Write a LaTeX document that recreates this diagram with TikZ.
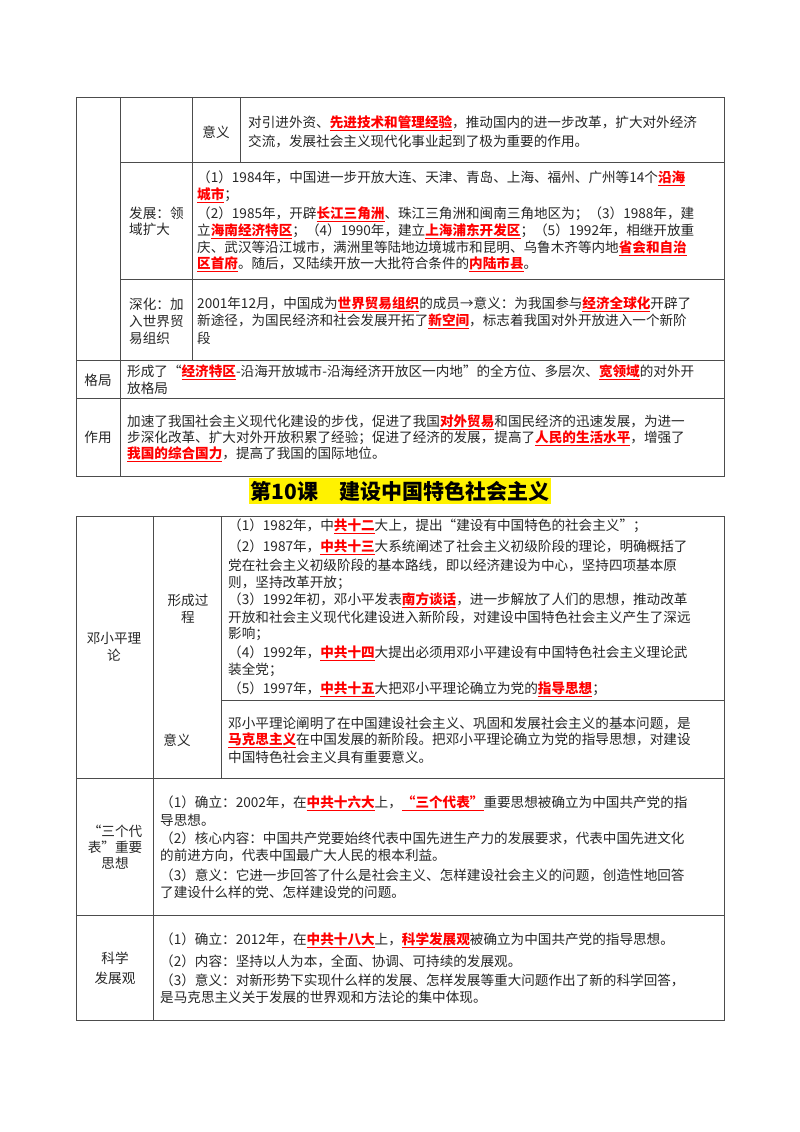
\documentclass[tikz,border=0pt]{standalone}
\usepackage{fontspec}
\setmainfont{Noto Sans CJK SC}
\XeTeXlinebreaklocale "zh"
\XeTeXlinebreakskip=0pt plus 4pt minus 0.3pt
\newcommand\hl[1]{\textcolor{red}{\bfseries\underline{#1}}}
\newcounter{ln}
\newcommand\Ln[3]{\stepcounter{ln}\node[txt] (ln\theln) at (#1,#2) {#3};}
\newcommand\Lj[4]{\stepcounter{ln}\node[txt,text width=#3pt,align=justify] (ln\theln) at (#1,#2) {\parfillskip=0pt\emergencystretch=20pt #4};}
\newcommand\Lc[3]{\stepcounter{ln}\node[lab] (ln\theln) at (#1,#2) {#3};}
\begin{document}
\begin{tikzpicture}[x=1pt,y=-1pt,
  txt/.style={anchor=west,inner sep=0pt,font=\fontsize{13.6}{16}\selectfont,text=black!85},
  lab/.style={inner sep=0pt,font=\fontsize{13.6}{16}\selectfont,text=black!85},
  grid/.style={draw=black!70,line width=0.9pt}]
\useasboundingbox[fill=white] (0,0) rectangle (800,1132);
% top table grid
\draw[grid] (76,97) rectangle (724,476);
\draw[grid] (120,97) -- (120,476);
\draw[grid] (192,97) -- (192,360);
\draw[grid] (240,97) -- (240,162);
\draw[grid] (120,162) -- (724,162);
\draw[grid] (120,279) -- (724,279);
\draw[grid] (76,360) -- (724,360);
\draw[grid] (76,398) -- (724,398);
% row yiyi
\Lc{216}{132}{意义}
\Lj{248}{123}{470}{对引进外资、\hl{先进技术和管理经验}，推动国内的进一步改革，扩大对外经济}
\Ln{248}{141}{交流，发展社会主义现代化事业起到了极为重要的作用。}
% fazhan
\Ln{129}{213}{发展：领}
\Ln{129}{229}{域扩大}
\Lj{197}{178}{521}{（1）1984年，中国进一步开放大连、天津、青岛、上海、福州、广州等14个\hl{沿海}}
\Ln{197}{195}{\hl{城市}；}
\Lj{197}{214}{521}{（2）1985年，开辟\hl{长江三角洲}、珠江三角洲和闽南三角地区为；（3）1988年，建}
\Lj{197}{231}{521}{立\hl{海南经济特区}；（4）1990年，建立\hl{上海浦东开发区}；（5）1992年，相继开放重}
\Lj{197}{248}{521}{庆、武汉等沿江城市，满洲里等陆地边境城市和昆明、乌鲁木齐等内地\hl{省会和自治}}
\Ln{197}{264}{\hl{区首府}。随后，又陆续开放一大批符合条件的\hl{内陆市县}。}
% shenhua
\Ln{129}{304}{深化：加}
\Ln{129}{321}{入世界贸}
\Ln{129}{338}{易组织}
\Lj{197}{304}{521}{2001年12月，中国成为\hl{世界贸易组织}的成员→意义：为我国参与\hl{经济全球化}开辟了}
\Lj{197}{321}{521}{新途径，为国民经济和社会发展开拓了\hl{新空间}，标志着我国对外开放进入一个新阶}
\Ln{197}{338}{段}
% geju
\Lc{98}{380}{格局}
\Lj{127}{372}{591}{形成了“\hl{经济特区}-沿海开放城市-沿海经济开放区一内地”的全方位、多层次、\hl{宽领域}的对外开}
\Ln{127}{388}{放格局}
% zuoyong
\Lc{98}{437}{作用}
\Lj{127}{422}{591}{加速了我国社会主义现代化建设的步伐，促进了我国\hl{对外贸易}和国民经济的迅速发展，为进一}
\Lj{127}{438}{591}{步深化改革、扩大对外开放积累了经验；促进了经济的发展，提高了\hl{人民的生活水平}，增强了}
\Ln{127}{454}{\hl{我国的综合国力}，提高了我国的国际地位。}
% title
\node[fill=yellow,inner xsep=2pt,inner ysep=3pt,font=\fontsize{21}{24}\selectfont\bfseries] (title) at (400,491) {第10课\hspace{1em}建设中国特色社会主义};
% bottom grid
\draw[grid] (76,516) rectangle (724,1020);
\draw[grid] (153,516) -- (153,1020);
\draw[grid] (221,516) -- (221,778);
\draw[grid] (221,700) -- (724,700);
\draw[grid] (76,778) -- (724,778);
\draw[grid] (76,915) -- (724,915);
% deng
\Lc{114}{638}{邓小平理}
\Lc{114}{655}{论}
\Lc{188}{600}{形成过}
\Lc{188}{617}{程}
\Ln{228}{526}{（1）1982年，中\hl{共十二}大上，提出“建设有中国特色的社会主义”；}
\Lj{228}{547}{486}{（2）1987年，\hl{中共十三}大系统阐述了社会主义初级阶段的理论，明确概括了}
\Ln{228}{565}{党在社会主义初级阶段的基本路线，即以经济建设为中心，坚持四项基本原}
\Ln{228}{583}{则，坚持改革开放；}
\Lj{228}{600}{486}{（3）1992年初，邓小平发表\hl{南方谈话}，进一步解放了人们的思想，推动改革}
\Lj{228}{617}{486}{开放和社会主义现代化建设进入新阶段，对建设中国特色社会主义产生了深远}
\Ln{228}{634}{影响；}
\Lj{228}{653}{486}{（4）1992年，\hl{中共十四}大提出必须用邓小平建设有中国特色社会主义理论武}
\Ln{228}{670}{装全党；}
\Ln{228}{689}{（5）1997年，\hl{中共十五}大把邓小平理论确立为党的\hl{指导思想}；}
\Lc{177}{740}{意义}
\Lj{228}{723}{488}{邓小平理论阐明了在中国建设社会主义、巩固和发展社会主义的基本问题，是}
\Lj{228}{740}{488}{\hl{马克思主义}在中国发展的新阶段。把邓小平理论确立为党的指导思想，对建设}
\Ln{228}{757}{中国特色社会主义具有重要意义。}
% sange daibiao
\Lc{115}{831}{“三个代}
\Lc{115}{847}{表”重要}
\Lc{115}{863}{思想}
\Lj{160}{803}{558}{（1）确立：2002年，在\hl{中共十六大}上，\hl{“三个代表”}重要思想被确立为中国共产党的指}
\Ln{160}{820}{导思想。}
\Lj{160}{838}{558}{（2）核心内容：中国共产党要始终代表中国先进生产力的发展要求，代表中国先进文化}
\Ln{160}{855}{的前进方向，代表中国最广大人民的根本利益。}
\Lj{160}{875}{558}{（3）意义：它进一步回答了什么是社会主义、怎样建设社会主义的问题，创造性地回答}
\Ln{160}{892}{了建设什么样的党、怎样建设党的问题。}
% kexue
\Lc{115}{958}{科学}
\Lc{115}{978}{发展观}
\Ln{160}{940}{（1）确立：2012年，在\hl{中共十八大}上，\hl{科学发展观}被确立为中国共产党的指导思想。}
\Ln{160}{961}{（2）内容：坚持以人为本，全面、协调、可持续的发展观。}
\Lj{160}{980}{556}{（3）意义：对新形势下实现什么样的发展、怎样发展等重大问题作出了新的科学回答，}
\Ln{160}{997}{是马克思主义关于发展的世界观和方法论的集中体现。}
\end{tikzpicture}
\end{document}
